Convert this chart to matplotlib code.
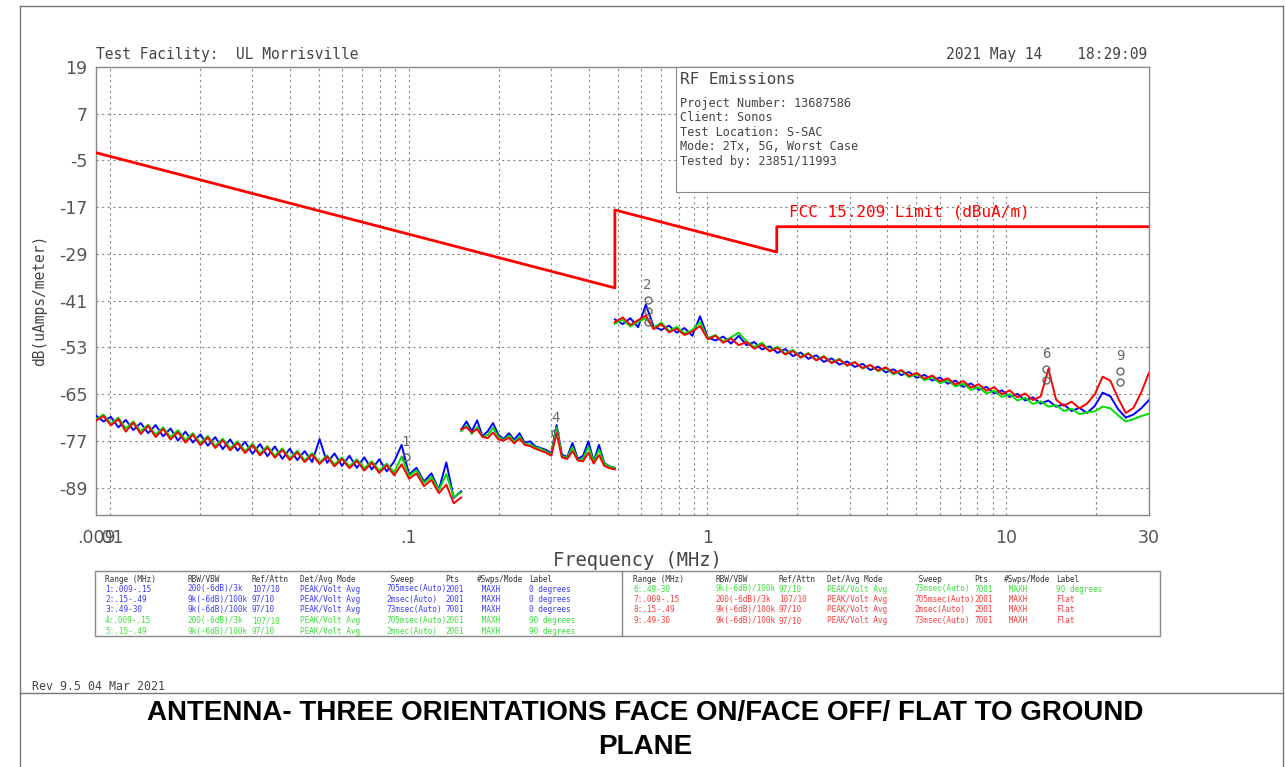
import numpy as np
import matplotlib
matplotlib.use("Agg")
import matplotlib.pyplot as plt
from matplotlib.patches import Rectangle
from matplotlib.lines import Line2D

plt.rcParams['axes.unicode_minus'] = False

W, H = 1285, 767

# ---- sweep segments (start/stop MHz) ----
seg1_range = [0.009, 0.15]
seg2_range = [0.15, 0.49]
seg3_range = [0.49, 30.0]

# levels, dB(uA/m)
seg1_blue = [-70.5, -72.0, -70.8, -73.5, -71.6, -74.2, -72.4, -75.0, -72.9, -75.8,
             -73.8, -76.9, -74.6, -77.4, -75.3, -78.2, -76.0, -79.1, -76.6, -79.5,
             -77.2, -80.3, -77.8, -80.9, -78.4, -81.6, -79.0, -81.9, -79.6, -82.4,
             -76.5, -82.6, -80.2, -83.4, -80.8, -83.9, -81.2, -84.3, -81.7, -84.8,
             -82.3, -78.0, -85.6, -83.9, -87.4, -85.3, -89.5, -82.5, -91.6, -89.9]
seg1_green = [-71.5, -70.2, -72.6, -71.0, -73.8, -72.0, -74.5, -72.8, -75.4, -73.5,
              -76.0, -74.2, -76.8, -75.0, -77.6, -75.7, -78.3, -76.4, -78.9, -77.1,
              -79.6, -77.7, -80.2, -78.3, -80.8, -78.9, -81.4, -79.5, -82.0, -80.1,
              -82.5, -80.7, -83.0, -81.2, -83.5, -81.7, -84.0, -82.2, -84.6, -82.8,
              -85.1, -81.0, -86.0, -84.5, -87.8, -86.2, -89.6, -85.5, -91.4, -90.2]
seg1_red = [-71.8, -70.6, -73.0, -71.4, -74.6, -72.3, -75.2, -73.1, -76.0, -73.9,
            -76.6, -74.7, -77.4, -75.4, -78.1, -76.1, -78.8, -76.8, -79.4, -77.5,
            -80.1, -78.1, -80.7, -78.7, -81.3, -79.3, -81.9, -79.9, -82.4, -80.5,
            -82.9, -81.0, -83.5, -81.6, -84.0, -82.1, -84.6, -82.6, -85.2, -83.2,
            -85.8, -83.0, -86.7, -85.3, -88.6, -87.0, -90.4, -88.2, -93.0, -91.5]

seg2_blue = [-74.1, -72.0, -74.5, -71.7, -75.8, -74.5, -72.4, -75.4, -76.5, -75.0,
             -76.7, -75.0, -77.5, -77.1, -78.4, -78.8, -79.3, -80.1, -72.9, -80.5,
             -81.1, -77.5, -81.6, -80.8, -77.1, -82.2, -78.0, -82.7, -83.5, -83.9]
seg2_green = [-74.5, -73.0, -75.2, -73.4, -76.0, -75.5, -73.6, -76.0, -76.8, -75.6,
              -77.2, -75.9, -77.8, -77.9, -78.7, -79.0, -79.7, -80.4, -73.5, -80.9,
              -81.3, -78.6, -81.9, -81.5, -78.5, -82.4, -79.2, -82.9, -83.6, -84.0]
seg2_red = [-74.0, -73.5, -74.8, -74.0, -75.9, -76.3, -74.8, -76.6, -76.9, -76.2,
            -77.6, -76.4, -78.0, -78.3, -79.0, -79.5, -80.0, -80.8, -75.0, -81.2,
            -81.6, -79.6, -82.0, -82.2, -80.0, -82.8, -80.6, -83.4, -84.0, -84.3]

seg3_blue = [-45.8, -47.0, -45.5, -47.8, -42.0, -47.6, -48.5, -47.4, -49.2, -48.0,
             -50.0, -45.0, -50.4, -51.2, -50.2, -52.0, -50.0, -52.4, -51.6, -53.5,
             -52.7, -54.4, -53.4, -55.2, -54.3, -55.9, -55.0, -56.7, -55.8, -57.4,
             -56.6, -58.0, -57.2, -58.8, -57.9, -59.4, -58.6, -60.1, -59.3, -60.8,
             -60.0, -61.5, -60.7, -62.3, -61.5, -63.1, -62.2, -63.9, -63.1, -64.8,
             -64.0, -65.7, -64.9, -66.6, -65.8, -67.4, -66.6, -68.2, -67.6, -69.3,
             -68.5, -69.8, -68.0, -64.6, -65.5, -68.8, -71.0, -70.2, -68.6, -66.5]
seg3_green = [-46.9, -45.9, -47.6, -46.4, -45.5, -47.9, -46.6, -48.8, -47.7, -49.4,
              -48.5, -46.5, -50.6, -49.8, -51.5, -50.4, -49.2, -51.4, -52.9, -51.8,
              -53.8, -52.8, -54.6, -53.6, -55.4, -54.4, -56.2, -55.2, -56.9, -55.9,
              -57.7, -56.7, -58.4, -57.5, -59.1, -58.3, -59.9, -59.0, -60.6, -59.8,
              -61.4, -60.6, -62.2, -61.4, -63.0, -62.3, -63.9, -63.2, -64.8, -64.1,
              -65.7, -65.0, -66.6, -65.9, -67.5, -66.8, -68.2, -67.8, -69.3, -68.7,
              -70.1, -69.6, -69.4, -68.2, -68.6, -70.4, -72.0, -71.4, -70.6, -70.0]
seg3_red = [-46.5, -45.3, -47.2, -46.0, -44.8, -48.3, -47.0, -49.1, -48.2, -49.8,
            -48.9, -47.5, -50.9, -50.0, -51.8, -50.7, -52.4, -51.6, -53.3, -52.3,
            -54.0, -53.1, -54.8, -53.9, -55.6, -54.6, -56.3, -55.4, -57.0, -56.1,
            -57.6, -56.8, -58.3, -57.5, -58.9, -58.1, -59.6, -58.8, -60.3, -59.5,
            -61.0, -60.2, -61.7, -60.9, -62.5, -61.6, -63.3, -62.4, -64.1, -63.2,
            -65.0, -64.0, -65.8, -64.8, -66.5, -65.6, -58.5, -66.4, -68.0, -66.9,
            -68.6, -67.4, -65.0, -60.5, -61.5, -66.0, -69.8, -68.5, -64.5, -59.5]

# FCC 15.209 limit, converted to dBuA/m
limit_freq = [0.009, 0.49, 0.49, 1.705, 1.705, 30.0]
limit_level = [-3.0, -37.7, -17.7, -28.5, -22.0, -22.0]

# markers: label, freq, level of symbol, number of stacked symbols
mk_label = ['1', '4', '2', '6', '9']
mk_freq = [0.098, 0.31, 0.63, 13.6, 24.0]
mk_level = [-81.0, -75.0, -46.4, -61.3, -61.8]
mk_stack = [1, 1, 3, 2, 2]

yticks = [19, 7, -5, -17, -29, -41, -53, -65, -77, -89]
xticks = [0.009, 0.01, 0.1, 1, 10, 30]
xtick_labels = ['.009', '.01', '.1', '1', '10', '30']

info_lines = ['Project Number: 13687586', 'Client: Sonos', 'Test Location: S-SAC',
              'Mode: 2Tx, 5G, Worst Case', 'Tested by: 23851/11993']

tbl_head = ['Range (MHz)', 'RBW/VBW', 'Ref/Attn', 'Det/Avg Mode', ' Sweep', 'Pts',
            '#Swps/Mode', 'Label']
tbl_left = [
    ['1:.009-.15', '200(-6dB)/3k', '107/10', 'PEAK/Volt Avg', '705msec(Auto)', '2001', ' MAXH', '0 degrees'],
    ['2:.15-.49', '9k(-6dB)/100k', '97/10', 'PEAK/Volt Avg', '2msec(Auto)', '2001', ' MAXH', '0 degrees'],
    ['3:.49-30', '9k(-6dB)/100k', '97/10', 'PEAK/Volt Avg', '73msec(Auto)', '7001', ' MAXH', '0 degrees'],
    ['4:.009-.15', '200(-6dB)/3k', '107/10', 'PEAK/Volt Avg', '705msec(Auto)', '2001', ' MAXH', '90 degrees'],
    ['5:.15-.49', '9k(-6dB)/100k', '97/10', 'PEAK/Volt Avg', '2msec(Auto)', '2001', ' MAXH', '90 degrees'],
]
tbl_right = [
    ['6:.49-30', '9k(-6dB)/100k', '97/10', 'PEAK/Volt Avg', '73msec(Auto)', '7001', ' MAXH', '90 degrees'],
    ['7:.009-.15', '200(-6dB)/3k', '107/10', 'PEAK/Volt Avg', '705msec(Auto)', '2001', ' MAXH', 'Flat'],
    ['8:.15-.49', '9k(-6dB)/100k', '97/10', 'PEAK/Volt Avg', '2msec(Auto)', '2001', ' MAXH', 'Flat'],
    ['9:.49-30', '9k(-6dB)/100k', '97/10', 'PEAK/Volt Avg', '73msec(Auto)', '7001', ' MAXH', 'Flat'],
]
C_BLUE, C_GREEN, C_RED = '#0000ff', '#00e000', '#ff0000'
T_BLUE, T_GREEN, T_RED = '#3c3cff', '#3ce03c', '#ff3c3c'
left_colors = [T_BLUE, T_BLUE, T_BLUE, T_GREEN, T_GREEN]
right_colors = [T_GREEN, T_RED, T_RED, T_RED]

MONO = 'DejaVu Sans Mono'
GRAY = '#444444'


def fx(px):
    return px / W


def fy(py):
    return 1 - py / H


fig = plt.figure(figsize=(W / 100, H / 100), dpi=100)
ax = fig.add_axes([fx(96), fy(515), fx(1149) - fx(96), fy(67) - fy(515)])
ax.set_xscale('log')
ax.set_xlim(0.009, 30)
ax.set_ylim(-96, 19)

# grid
grid_x = [m * 10.0 ** e for e in range(-2, 2) for m in range(1, 10)] + [20.0, 30.0]
for gx in grid_x:
    if 0.009 < gx < 30:
        ax.axvline(gx, color='#888888', lw=0.8, ls=(0, (2, 3)), zorder=1)
for gy in yticks[1:]:
    ax.axhline(gy, color='#888888', lw=0.8, ls=(0, (2, 3)), zorder=1)

# traces
segs = [(seg1_range, seg1_blue, seg1_green, seg1_red),
        (seg2_range, seg2_blue, seg2_green, seg2_red),
        (seg3_range, seg3_blue, seg3_green, seg3_red)]
for rng, b, g, r in segs:
    f = np.geomspace(rng[0], rng[1], len(b))
    ax.plot(f, b, color=C_BLUE, lw=1.4, zorder=3)
    ax.plot(f, g, color=C_GREEN, lw=1.4, zorder=4)
    ax.plot(f, r, color=C_RED, lw=1.4, zorder=5)

ax.plot(limit_freq, limit_level, color=C_RED, lw=2, zorder=6)
ax.text(1.88, -18.2, 'FCC 15.209 Limit (dBuA/m)', color=C_RED, family=MONO,
        fontsize=11.5, va='center', ha='left', zorder=7)

# markers
for lab, f, lv, n in zip(mk_label, mk_freq, mk_level, mk_stack):
    for k in range(n):
        ax.plot(f, lv + k * 2.8, marker='o', ms=5, mfc='none', mec='#666666',
                mew=1.0, zorder=8)
    ax.text(f, lv + (n - 1) * 2.8 + 3.8, lab, color='#666666', fontsize=10,
            family=MONO, ha='center', va='center', zorder=8)

ax.set_xticks(xticks)
ax.set_xticklabels(xtick_labels)
ax.set_yticks(yticks)
ax.minorticks_off()
ax.tick_params(axis='both', length=0, labelsize=12.5, labelcolor='#555555', pad=6)
ax.tick_params(axis='x', pad=10)
for s in ax.spines.values():
    s.set_color('#888888')
    s.set_linewidth(1.0)

# info box
ax_info = fig.add_axes([fx(676), fy(192), fx(1149) - fx(676), fy(67) - fy(192)])
ax_info.set_xticks([])
ax_info.set_yticks([])
for s in ax_info.spines.values():
    s.set_color('#888888')
fig.text(fx(680), fy(80), 'RF Emissions', family=MONO, fontsize=11.5, color=GRAY, va='center')
for i, line in enumerate(info_lines):
    fig.text(fx(680), fy(103 + i * 14.5), line, family=MONO, fontsize=8.6, color=GRAY, va='center')

# header / axis labels
fig.text(fx(96), fy(55), 'Test Facility:  UL Morrisville', family=MONO, fontsize=10.5,
         color=GRAY, va='center')
fig.text(fx(1147), fy(55), '2021 May 14    18:29:09', family=MONO, fontsize=10.5,
         color=GRAY, va='center', ha='right')
fig.text(fx(40), fy(300), 'dB(uAmps/meter)', family=MONO, fontsize=10.5, color=GRAY,
         rotation=90, va='center', ha='center')
fig.text(fx(637), fy(560), 'Frequency (MHz)', family=MONO, fontsize=13.5, color=GRAY,
         va='center', ha='center')

# settings table
fig.add_artist(Rectangle((fx(95), fy(636)), fx(1160) - fx(95), fy(571) - fy(636),
                         fill=False, edgecolor='#888888', lw=1.0, transform=fig.transFigure))
fig.add_artist(Line2D([fx(622), fx(622)], [fy(571), fy(636)], color='#888888', lw=1.0,
                      transform=fig.transFigure))
col_left = [105, 187, 252, 300, 386, 445, 477, 529]
col_right = [633, 715, 779, 827, 914, 974, 1004, 1056]
row_y = [579, 589, 599.5, 609.5, 620.5, 631.5]
for cols, rows, colors in [(col_left, tbl_left, left_colors), (col_right, tbl_right, right_colors)]:
    for c, txt in zip(cols, tbl_head):
        fig.text(fx(c), fy(row_y[0]), txt, family=MONO, fontsize=5.6, color='#333333', va='center')
    for r, (row, col) in enumerate(zip(rows, colors)):
        for c, txt in zip(cols, row):
            fig.text(fx(c), fy(row_y[r + 1]), txt, family=MONO, fontsize=5.6, color=col,
                     va='center')

fig.text(fx(32), fy(687), 'Rev 9.5 04 Mar 2021', family=MONO, fontsize=8.4, color=GRAY,
         va='center')

# page frame
frame = [([fx(20), fx(20)], [0, fy(6)]), ([fx(1283), fx(1283)], [0, fy(6)]),
         ([fx(20), fx(1283)], [fy(6), fy(6)]), ([fx(20), fx(1283)], [fy(693), fy(693)])]
for xs, ys in frame:
    fig.add_artist(Line2D(xs, ys, color='#777777', lw=1.0, transform=fig.transFigure))

fig.text(fx(645), fy(713), 'ANTENNA- THREE ORIENTATIONS FACE ON/FACE OFF/ FLAT TO GROUND',
         family='Liberation Sans', weight='bold', fontsize=20, ha='center', va='center')
fig.text(fx(645), fy(747), 'PLANE', family='Liberation Sans', weight='bold', fontsize=20,
         ha='center', va='center')

fig.savefig('out.png', dpi=100)
